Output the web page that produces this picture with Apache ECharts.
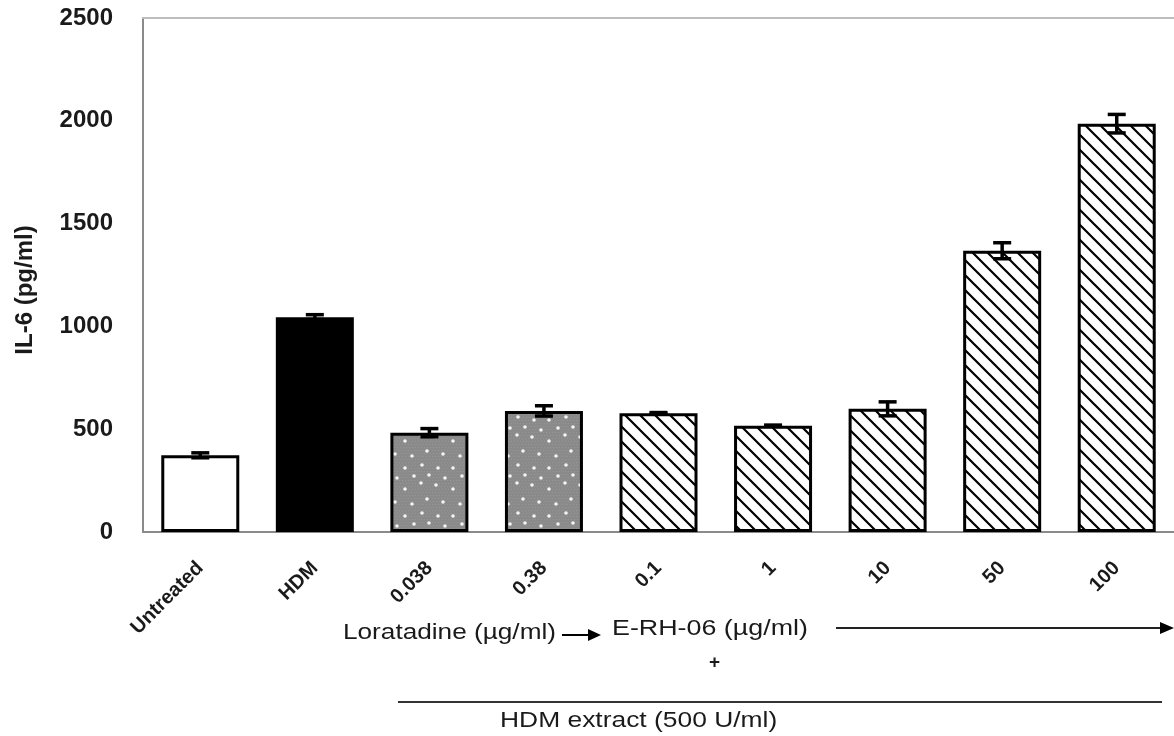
<!DOCTYPE html>
<html>
<head>
<meta charset="utf-8">
<script src="https://cdn.jsdelivr.net/npm/echarts@6/dist/echarts.min.js"></script>
<style>
  html, body { margin: 0; padding: 0; background: #fff; }
  #chart { width: 1174px; height: 736px; }
</style>
</head>
<body>
<div id="chart"></div>
<script>
// IL-6 release
const categories = ['Untreated', 'HDM', '0.038', '0.38', '0.1', '1', '10', '50', '100'];
const il6Values = [373, 1045, 483, 589, 578, 517, 599, 1368, 1986];
const il6Errors = [12, 12, 20, 25, 3, 3, 34, 39, 45];
const yTicks = [0, 500, 1000, 1500, 2000, 2500];

// fill kind per bar: untreated / hdm / loratadine / extract
const fillKinds = ['open', 'solid', 'dots', 'dots', 'hatch', 'hatch', 'hatch', 'hatch', 'hatch'];

function hatchPattern() {
  const s = 15;
  const c = document.createElement('canvas');
  c.width = s; c.height = s;
  const ctx = c.getContext('2d');
  ctx.fillStyle = '#fff';
  ctx.fillRect(0, 0, s, s);
  ctx.strokeStyle = '#000';
  ctx.lineWidth = 2.2;
  ctx.beginPath();
  ctx.moveTo(-3, -3); ctx.lineTo(s + 3, s + 3);
  ctx.moveTo(-3, s - 3); ctx.lineTo(3, s + 3);
  ctx.moveTo(s - 3, -3); ctx.lineTo(s + 3, 3);
  ctx.stroke();
  return c;
}

function dotPattern() {
  const s = 48;
  const c = document.createElement('canvas');
  c.width = s; c.height = s;
  const ctx = c.getContext('2d');
  ctx.fillStyle = '#8a8a8a';
  ctx.fillRect(0, 0, s, s);
  // fine grey texture
  ctx.fillStyle = '#969696';
  for (let y = 0; y < s; y += 3) {
    for (let x = (y / 3) % 2; x < s; x += 3) ctx.fillRect(x, y, 1, 1);
  }
  // scattered white specks
  const specks = [[4, 5], [21, 9], [37, 3], [43, 19], [11, 22], [28, 24], [6, 36],
                  [21, 36], [38, 33], [30, 44], [13, 46], [45, 43]];
  ctx.fillStyle = '#f4f4f4';
  specks.forEach(function (p) {
    ctx.beginPath();
    ctx.arc(p[0], p[1], 1.8, 0, Math.PI * 2);
    ctx.fill();
  });
  return c;
}

const hatch = { image: hatchPattern(), repeat: 'repeat' };
const dots = { image: dotPattern(), repeat: 'repeat' };

function styleFor(kind) {
  if (kind === 'solid') return { color: '#000', borderColor: '#000', borderWidth: 3 };
  if (kind === 'dots') return { color: dots, borderColor: '#000', borderWidth: 3 };
  if (kind === 'hatch') return { color: hatch, borderColor: '#000', borderWidth: 3 };
  return { color: '#fff', borderColor: '#000', borderWidth: 3 };
}

const barData = il6Values.map(function (v, i) {
  return { value: v, itemStyle: styleFor(fillKinds[i]) };
});
const errData = il6Values.map(function (v, i) {
  return [i, v - il6Errors[i], v + il6Errors[i]];
});

const chart = echarts.init(document.getElementById('chart'));

const textFont = '"Liberation Sans", Arial, sans-serif';
const noteFont = '22px ' + textFont;

const option = {
  animation: false,
  backgroundColor: '#fff',
  grid: { left: 143, right: 0, top: 18, bottom: 204, containLabel: false },
  xAxis: [
    {
      type: 'category',
      data: categories,
      axisLine: { lineStyle: { color: '#8a8a8a', width: 2 } },
      axisTick: { show: false },
      axisLabel: {
        rotate: 45, margin: 33, interval: 0,
        fontFamily: textFont, fontSize: 20, fontWeight: 'bold', color: '#1a1a1a'
      }
    },
    {
      type: 'category',
      data: categories,
      position: 'top',
      axisLine: { lineStyle: { color: '#bdbdbd', width: 2 } },
      axisTick: { show: false },
      axisLabel: { show: false }
    }
  ],
  yAxis: {
    type: 'value',
    min: 0, max: 2500, interval: 500,
    axisLine: { show: true, lineStyle: { color: '#8a8a8a', width: 2 } },
    axisTick: { show: false },
    splitLine: { show: false },
    axisLabel: {
      margin: 30,
      fontFamily: textFont, fontSize: 24, fontWeight: 'bold', color: '#1a1a1a',
      formatter: function (v) { return yTicks.indexOf(v) >= 0 ? String(v) : ''; }
    }
  },
  series: [
    {
      type: 'bar',
      data: barData,
      barWidth: 78,
      z: 2
    },
    {
      type: 'custom',
      data: errData,
      z: 5,
      renderItem: function (params, api) {
        const lo = api.coord([api.value(0), api.value(1)]);
        const hi = api.coord([api.value(0), api.value(2)]);
        const hw = 9;
        const st = { stroke: '#000', lineWidth: 3.5 };
        return {
          type: 'group',
          children: [
            { type: 'line', shape: { x1: lo[0], y1: lo[1], x2: hi[0], y2: hi[1] }, style: st },
            { type: 'line', shape: { x1: lo[0] - hw, y1: lo[1], x2: lo[0] + hw, y2: lo[1] }, style: st },
            { type: 'line', shape: { x1: hi[0] - hw, y1: hi[1], x2: hi[0] + hw, y2: hi[1] }, style: st }
          ]
        };
      }
    }
  ],
  graphic: [
    // y axis title
    { type: 'text', x: 25, y: 290, rotation: Math.PI / 2,
      style: { text: 'IL-6 (pg/ml)', font: 'bold 24px ' + textFont, fill: '#1a1a1a',
               align: 'center', verticalAlign: 'middle' } },
    { type: 'text', x: 343, y: 622, scaleX: 1.19,
      style: { text: 'Loratadine (µg/ml)', font: noteFont, fill: '#1a1a1a' } },
    { type: 'line', shape: { x1: 562, y1: 635, x2: 590, y2: 635 }, style: { stroke: '#000', lineWidth: 2 } },
    { type: 'polygon', shape: { points: [[588, 629], [601, 635], [588, 641]] }, style: { fill: '#000' } },
    { type: 'text', x: 612, y: 618, scaleX: 1.22,
      style: { text: 'E-RH-06 (µg/ml)', font: noteFont, fill: '#1a1a1a' } },
    { type: 'text', x: 709, y: 653,
      style: { text: '+', font: 'bold 19px ' + textFont, fill: '#1a1a1a' } },
    { type: 'line', shape: { x1: 836, y1: 628, x2: 1162, y2: 628 }, style: { stroke: '#222', lineWidth: 2 } },
    { type: 'polygon', shape: { points: [[1160, 622], [1174, 628], [1160, 634]] }, style: { fill: '#000' } },
    { type: 'line', shape: { x1: 398, y1: 702, x2: 1162, y2: 702 }, style: { stroke: '#333', lineWidth: 2 } },
    { type: 'text', x: 500, y: 710, scaleX: 1.2,
      style: { text: 'HDM extract (500 U/ml)', font: noteFont, fill: '#1a1a1a' } }
  ]
};

chart.setOption(option);
</script>
</body>
</html>
